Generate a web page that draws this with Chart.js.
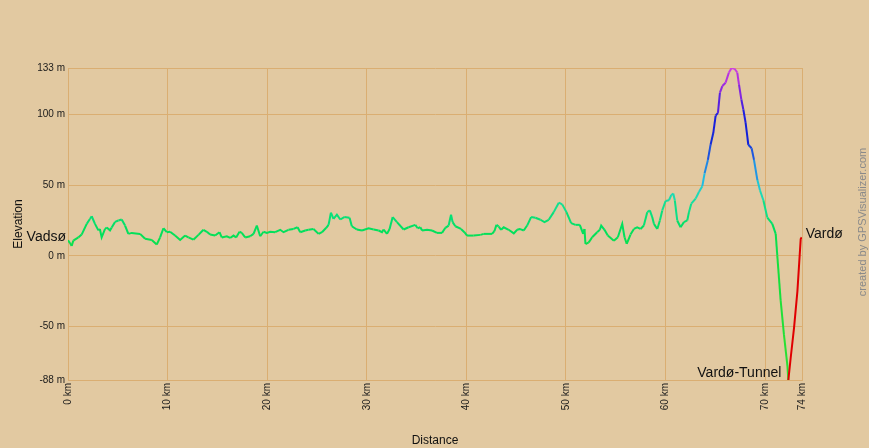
<!DOCTYPE html>
<html>
<head>
<meta charset="utf-8">
<script src="https://cdn.jsdelivr.net/npm/chart.js@4.4.1/dist/chart.umd.min.js"></script>
<style>
  html, body { margin: 0; padding: 0; background: #E2C9A1; }
  canvas { display: block; }
</style>
</head>
<body>
<canvas id="c" width="869" height="448"></canvas>
<script>
// ---- data ----
const distKm = [0.0,0.2,0.37,0.53,1.04,1.37,1.88,2.2,2.38,2.71,3.05,3.2,3.38,3.72,3.89,4.22,4.39,4.72,5.06,5.39,5.73,6.06,6.4,7.24,7.74,8.41,8.91,9.25,9.58,9.92,10.25,10.75,11.26,11.76,12.09,12.59,13.1,13.6,13.94,14.27,14.77,15.21,15.44,15.95,16.28,16.62,16.88,17.22,17.45,17.79,18.29,18.63,18.96,19.3,19.63,19.97,20.3,20.8,21.31,21.64,22.14,22.64,23.05,23.32,23.82,24.15,24.65,25.16,25.5,25.93,26.16,26.4,26.66,27.0,27.34,27.74,28.27,28.5,29.0,29.52,30.18,30.69,31.19,31.53,31.69,32.03,32.29,32.6,33.03,33.7,34.2,34.87,35.11,35.38,35.55,36.05,36.55,37.05,37.56,37.89,38.22,38.46,38.62,38.89,39.46,39.8,40.07,40.73,41.41,41.74,42.58,42.81,43.02,43.25,43.49,43.75,44.25,44.76,45.1,45.36,45.76,46.1,46.5,46.93,47.44,47.84,48.27,48.77,49.28,49.62,50.05,50.52,50.96,51.39,51.73,51.86,51.96,52.29,52.63,53.13,53.4,53.54,53.87,54.2,54.81,55.21,55.65,55.88,56.1,56.48,56.82,57.15,57.49,57.82,58.16,58.42,58.66,58.83,59.17,59.43,59.67,60.0,60.34,60.57,60.77,60.93,61.17,61.51,61.84,62.18,62.35,62.58,63.02,63.35,63.69,63.92,64.25,64.52,64.79,65.03,65.26,65.46,65.7,66.03,66.36,66.63,66.93,67.2,67.37,67.61,67.81,68.04,68.31,68.64,68.88,69.22,69.48,69.82,70.22,70.72,71.06,71.22,71.56,71.89,72.23,72.33,72.56,72.9,73.24,73.57,73.67];
const elevM = [11,9,7,10.7,13,15,22.6,26,28,22.6,18,19,13,19,20,18,20,24,25,25.7,21.4,15.5,16.2,15.5,12,11.2,8,13,19.5,16.7,17,14.3,11.2,14.3,13,11.4,14.8,18.4,17,15,14.3,16.7,13,13.8,12.6,14.3,13,17,16.2,13,13.8,15.5,21.4,13.8,17,16.2,17,16.7,18.4,16.7,18.4,19,20.2,16.7,17.9,18.4,19,15.5,16.7,19.8,21.9,30.5,26.2,29.1,25.7,27.4,27,20.9,18.6,17.9,19.5,18.6,17.9,16.7,18.6,15.5,19,27.4,23.8,18.6,20.2,21.9,19.5,20.2,17.9,18.4,17.9,16.2,16.2,19.8,21.4,29.1,23.8,20.9,19,16.7,14.3,14.3,14.8,15.5,15.5,17.4,21.9,20.7,18.4,20.2,18.4,15.9,18.4,19,17.9,21.4,27.4,26.9,25.5,23.8,25.5,30.9,37.6,36.4,30.9,23.1,21.9,21.9,15.5,19,8.3,9.5,13.1,16.7,18.4,21.4,18.4,14.3,10.7,13.1,22.6,13.1,8.5,15,19,20.2,19,21.4,30.9,32.1,27.4,22.6,19,25,32.1,38.8,39.3,42.9,44.1,39.3,25,20.2,23.8,25,30.9,36.9,40.5,45.2,49.3,58.4,67.9,78.6,86.9,99.3,101.2,115.5,120.2,122.6,129.8,133,132.5,129.8,121.4,110.7,103.6,94.1,78.6,76.2,67.9,53.6,46.4,39.3,27,22.6,15.5,0,-32,-56,-77.4,-88,-72.6,-51,-25,11.9,13.1];
const yTickValues = [133, 100, 50, 0, -50, -88];
const xTickValues = [0, 10, 20, 30, 40, 50, 60, 70, 73.7];
const xTickLabels = ['0 km','10 km','20 km','30 km','40 km','50 km','60 km','70 km','74 km'];
const startName = 'Vadsø';
const endName = 'Vardø';
const lowName = 'Vardø-Tunnel';

const points = distKm.map((d, i) => ({x: d, y: elevM[i]}));
let minIdx = 0;
elevM.forEach((v, i) => { if (v < elevM[minIdx]) minIdx = i; });

const stops = [[-88,[48,224,48]],[0,[16,224,64]],[20,[0,224,96]],[35,[16,224,144]],[45,[32,216,192]],[55,[32,184,232]],[70,[32,96,224]],[85,[16,32,216]],[100,[32,32,224]],[112,[112,32,224]],[125,[176,48,224]],[133,[208,64,224]]];
function elevColor(e) {
  if (e <= stops[0][0]) return 'rgb(' + stops[0][1].join(',') + ')';
  for (let i = 1; i < stops.length; i++) {
    if (e <= stops[i][0]) {
      const [e0, c0] = stops[i-1], [e1, c1] = stops[i];
      const t = (e - e0) / (e1 - e0);
      const c = c0.map((v, k) => Math.round(v + (c1[k] - v) * t));
      return 'rgb(' + c.join(',') + ')';
    }
  }
  return 'rgb(' + stops[stops.length-1][1].join(',') + ')';
}

const BG = '#E2C9A1';
const GRID = '#DAAE72';
const FONT = 'Liberation Sans, Arial, sans-serif';

const bgPlugin = {
  id: 'bg',
  beforeDraw(chart) {
    const c = chart.ctx;
    c.save();
    c.fillStyle = BG;
    c.fillRect(0, 0, chart.width, chart.height);
    c.restore();
  }
};

const labelPlugin = {
  id: 'labels',
  afterDatasetsDraw(chart) {
    const c = chart.ctx, xs = chart.scales.x, ys = chart.scales.y;
    c.save();
    c.fillStyle = '#111';
    c.font = '14px ' + FONT;
    c.textBaseline = 'middle';
    c.textAlign = 'right';
    c.fillText(startName, xs.getPixelForValue(distKm[0]) - 2, ys.getPixelForValue(elevM[0]) - 3);
    c.textAlign = 'left';
    const n = distKm.length - 1;
    c.fillText(endName, xs.getPixelForValue(distKm[n]) + 4, ys.getPixelForValue(elevM[n]) - 3);
    c.textAlign = 'right';
    c.fillText(lowName, xs.getPixelForValue(distKm[minIdx]) - 7, ys.getPixelForValue(elevM[minIdx]) - 7);
    // credit
    c.translate(863, 222);
    c.rotate(-Math.PI / 2);
    c.textAlign = 'center';
    c.fillStyle = '#8a8a8a';
    c.font = '11px ' + FONT;
    c.fillText('created by GPSVisualizer.com', 0, 0);
    c.restore();
  }
};

new Chart(document.getElementById('c'), {
  type: 'line',
  data: {
    datasets: [{
      data: points,
      borderWidth: 2,
      pointRadius: 0,
      tension: 0,
      fill: false,
      borderColor: '#00E060',
      segment: {
        borderColor: ctx => ctx.p0DataIndex >= minIdx ? '#E00000' : elevColor((ctx.p0.parsed.y + ctx.p1.parsed.y) / 2)
      }
    }]
  },
  options: {
    responsive: false,
    animation: false,
    devicePixelRatio: 1,
    layout: { padding: { top: 68, right: 67, left: 0, bottom: 0 } },
    plugins: { legend: { display: false }, tooltip: { enabled: false } },
    scales: {
      x: {
        type: 'linear',
        min: 0,
        max: 73.7,
        afterBuildTicks: s => { s.ticks = xTickValues.map(v => ({value: v})); },
        afterFit: s => { s.height = 68; },
        ticks: {
          minRotation: 90, maxRotation: 90, padding: 3,
          color: '#1a1a1a', font: { family: FONT, size: 10 },
          callback: (v) => { const i = xTickValues.indexOf(v); return i >= 0 ? xTickLabels[i] : ''; }
        },
        grid: { color: GRID, lineWidth: 1, drawTicks: false },
        border: { color: GRID },
        title: { display: true, text: 'Distance', color: '#111', font: { family: FONT, size: 12 }, padding: { top: 0, bottom: 0 } }
      },
      y: {
        min: -88,
        max: 133,
        afterBuildTicks: s => { s.ticks = yTickValues.map(v => ({value: v})); },
        afterFit: s => { s.width = 68; },
        ticks: {
          padding: 3, color: '#1a1a1a', font: { family: FONT, size: 10 },
          callback: v => v + ' m'
        },
        grid: { color: GRID, lineWidth: 1, drawTicks: false },
        border: { color: GRID },
        title: { display: true, text: 'Elevation', color: '#111', font: { family: FONT, size: 12 }, padding: { top: 11, bottom: 0 } }
      }
    }
  },
  plugins: [bgPlugin, labelPlugin]
});
</script>
</body>
</html>
